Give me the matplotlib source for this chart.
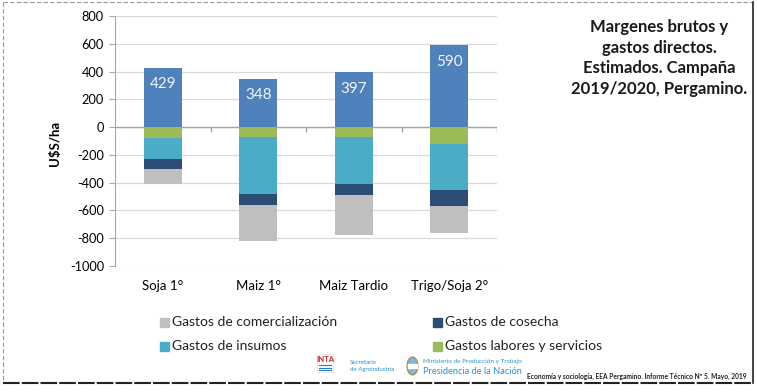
import matplotlib
matplotlib.use("Agg")
import matplotlib.pyplot as plt
from matplotlib.patches import Rectangle, Ellipse
from matplotlib.lines import Line2D
import numpy as np

plt.rcParams['font.family'] = ['Lato', 'DejaVu Sans']

categories = ["Soja 1°", "Maiz 1°", "Maiz Tardio", "Trigo/Soja 2°"]
margen_bruto = [429, 348, 397, 590]
gastos_labores = [77, 72, 72, 123]
gastos_insumos = [156, 411, 339, 327]
gastos_cosecha = [65, 77, 79, 117]
gastos_comerc = [113, 257, 284, 193]
yticks = [-1000, -800, -600, -400, -200, 0, 200, 400, 600, 800]

c_mb = '#4f81bd'
c_lab = '#9bbb59'
c_ins = '#4bacc6'
c_cos = '#2c4d75'
c_com = '#bfbfbf'

W, H = 757, 392
fig = plt.figure(figsize=(W / 100, H / 100), dpi=100)
ax = fig.add_axes([115 / W, 1 - 266 / H, (497 - 115) / W, 250 / H])

x = np.arange(len(categories))
bw = 0.4
lab = -np.array(gastos_labores)
ins = -np.array(gastos_insumos)
cos = -np.array(gastos_cosecha)
com = -np.array(gastos_comerc)

ax.bar(x, margen_bruto, bw, color=c_mb, zorder=3)
ax.bar(x, lab, bw, color=c_lab, zorder=3)
ax.bar(x, ins, bw, bottom=lab, color=c_ins, zorder=3)
ax.bar(x, cos, bw, bottom=lab + ins, color=c_cos, zorder=3)
ax.bar(x, com, bw, bottom=lab + ins + cos, color=c_com, zorder=3)

for xi, v in zip(x, margen_bruto):
    ax.text(xi, v - 120, str(v), ha='center', va='center', color='#f4f4f4',
            fontsize=11, zorder=4)

ax.set_xlim(-0.5, 3.5)
ax.set_ylim(-1000, 800)
ax.set_yticks(yticks)
ax.set_yticklabels([str(t) for t in yticks], fontsize=9.2)
ax.set_xticks(x)
ax.set_xticklabels(categories, fontsize=9.5)
ax.tick_params(axis='x', length=0, pad=10)
ax.tick_params(axis='y', length=4, color='#a6a6a6', pad=4)
ax.grid(axis='y', color='#d9d9d9', linewidth=0.9, zorder=0)
for s in ['top', 'right', 'bottom']:
    ax.spines[s].set_visible(False)
ax.spines['left'].set_color('#a6a6a6')
ax.axhline(0, color='#a6a6a6', linewidth=1.0, zorder=2)
ax.vlines([0.5, 1.5, 2.5, 3.5], -36, 0, color='#a6a6a6', linewidth=1.0, zorder=2)
ax.set_ylabel(r"U\$S/ha", fontsize=9.5, fontweight='bold')
ax.yaxis.set_label_coords(61 / W, 1 - 143 / H, transform=fig.transFigure)

# Title
title_lines = ["Margenes brutos y", "gastos directos.", "Estimados. Campaña",
               "2019/2020, Pergamino."]
for t, yy in zip(title_lines, [27, 48, 68, 89]):
    fig.text(659 / W, 1 - yy / H, t, ha='center', va='center', fontsize=12,
             fontweight='bold', color='#1a1a1a')

# Legend (manual)
leg_items = [("Gastos de comercialización", c_com, 160, 322),
             ("Gastos de insumos", c_ins, 160, 346),
             ("Gastos de cosecha", c_cos, 433, 322),
             ("Gastos labores y servicios", c_lab, 433, 346)]
for label, col, lx, ly in leg_items:
    fig.add_artist(Rectangle((lx / W, 1 - (ly + 4.5) / H), 9 / W, 9 / H,
                             transform=fig.transFigure, color=col))
    fig.text((lx + 12) / W, 1 - ly / H, label, ha='left', va='center',
             fontsize=10, color='#222222')

# Footer
fig.add_artist(Rectangle((317 / W, 1 - 372 / H), 16 / W, 18 / H,
                         transform=fig.transFigure, facecolor='white',
                         edgecolor='#dddddd', linewidth=0.5))
fig.text(325 / W, 1 - 359 / H, "INTA", ha='center', va='center', fontsize=5.5,
         fontweight='bold', color='#d62b2b')
for yy in [365, 367.5, 370]:
    fig.add_artist(Line2D([319 / W, 331 / W], [1 - yy / H, 1 - yy / H],
                          transform=fig.transFigure, color='#2a7bc0', linewidth=0.8))
fig.text(350 / W, 1 - 362 / H, "Secretaría", ha='left', va='center', fontsize=4.4,
         color='#2a8fd0')
fig.text(350 / W, 1 - 369 / H, "de Agroindustria", ha='left', va='center',
         fontsize=4.4, color='#2a8fd0')
fig.add_artist(Ellipse((412.5 / W, 1 - 366 / H), 11 / W, 18 / H,
                       transform=fig.transFigure, facecolor='#7fb7e0',
                       edgecolor='#b08a2a', linewidth=0.8))
fig.add_artist(Rectangle((408 / W, 1 - 368 / H), 9 / W, 4 / H,
                         transform=fig.transFigure, color='white'))
fig.text(423 / W, 1 - 362 / H, "Ministerio de Producción y Trabajo", ha='left',
         va='center', fontsize=4.6, color='#2a8fd0')
fig.text(423 / W, 1 - 371.5 / H, "Presidencia de la Nación", ha='left', va='center',
         fontsize=6.7, color='#2a8fd0')
fig.text(527 / W, 1 - 376 / H,
         "Economía y sociología, EEA Pergamino. Informe Técnico Nº 5. Mayo, 2019",
         ha='left', va='center', fontsize=4.8, fontweight='bold', color='#222222')

# Borders
fig.add_artist(Line2D([3 / W, 3 / W], [1 - 2 / H, 1 - 383 / H], transform=fig.transFigure,
                      color='#999999', linewidth=0.8, linestyle=(0, (4, 2))))
fig.add_artist(Line2D([3 / W, 753 / W], [1 - 2 / H, 1 - 2 / H], transform=fig.transFigure,
                      color='#999999', linewidth=0.8, linestyle=(0, (4, 2))))
fig.add_artist(Line2D([753 / W, 753 / W], [1 - 2 / H, 1 - 383 / H], transform=fig.transFigure,
                      color='#222222', linewidth=1.2))
fig.add_artist(Line2D([3 / W, 753 / W], [1 - 383 / H, 1 - 383 / H], transform=fig.transFigure,
                      color='#222222', linewidth=1.5, linestyle=(0, (8, 1))))

fig.savefig("out.png", dpi=100)
